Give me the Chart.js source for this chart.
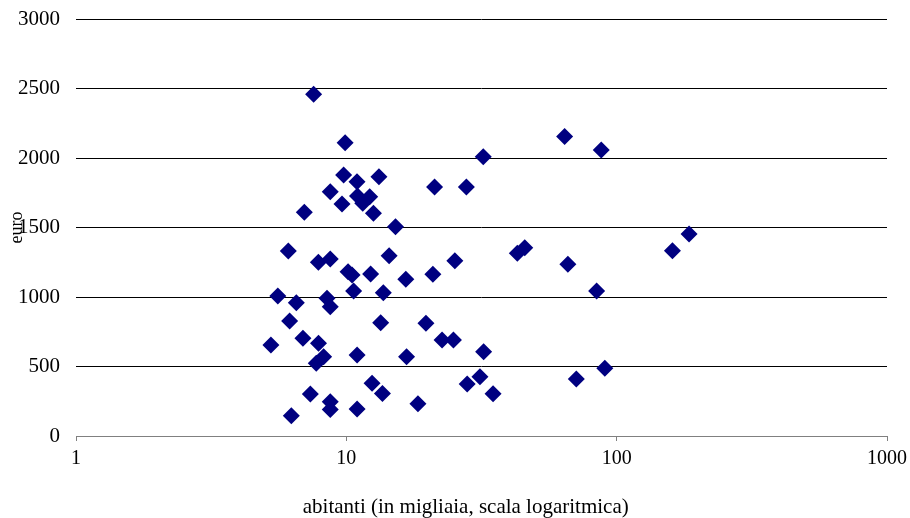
<!DOCTYPE html>
<html lang="it">
<head>
  <meta charset="UTF-8" />
  <title>euro per abitanti</title>
  <script src="https://cdn.jsdelivr.net/npm/chart.js"></script>
  <style>
    html, body { margin: 0; padding: 0; background: #fff; }
    #wrap { width: 910px; height: 518px; }
  </style>
</head>
<body>
  <div id="wrap"><canvas id="scatterChart" width="910" height="518"></canvas></div>
  <script>
    // abitanti (migliaia) e euro
    const abitanti = [
      7.57, 9.9, 9.77, 10.95, 13.2, 8.72, 6.99, 9.64, 11.0, 12.2,
      11.5, 12.6, 15.2, 21.2, 27.8, 32.1, 64.2, 87.7, 6.1, 7.88,
      8.72, 14.4, 25.2, 10.15, 10.5, 12.3, 16.6, 20.9, 42.9, 45.7,
      66.0, 84.3, 160.8, 185.3, 5.58, 6.53, 8.48, 8.72, 10.64, 13.7,
      6.17, 13.4, 19.7, 6.91, 7.89, 22.6, 24.9, 5.26, 8.24, 7.74,
      10.96, 16.7, 32.2, 12.45, 13.6, 7.36, 8.72, 8.72, 10.96, 18.4,
      6.26, 28.0, 31.2, 34.9, 70.9, 90.4
    ];
    const euro = [
      2458, 2110, 1878, 1829, 1865, 1757, 1609, 1669, 1727, 1722,
      1674, 1602, 1506, 1791, 1791, 2009, 2155, 2057, 1331, 1250,
      1273, 1297, 1261, 1182, 1158, 1165, 1127, 1163, 1314, 1355,
      1236, 1043, 1333, 1453, 1007, 959, 991, 930, 1043, 1031,
      827, 815, 811, 703, 667, 691, 691, 655, 571, 523,
      583, 571, 607, 379, 306, 302, 247, 190, 194, 232,
      146, 374, 427, 304, 410, 487
    ];
    const xTicks = [1, 10, 100, 1000];
    const yTicks = [0, 500, 1000, 1500, 2000, 2500, 3000];

    const points = abitanti.map((a, i) => ({ x: a, y: euro[i] }));
    const serif = "'Liberation Serif', 'Times New Roman', serif";

    new Chart(document.getElementById('scatterChart'), {
      type: 'scatter',
      data: {
        datasets: [{
          data: points,
          pointStyle: 'rectRot',
          pointRadius: 8.5,
          pointHoverRadius: 8.5,
          backgroundColor: '#000080',
          borderColor: '#000080',
          borderWidth: 0
        }]
      },
      options: {
        responsive: false,
        animation: false,
        layout: { padding: { top: 19, right: 23, left: 0, bottom: 0 } },
        plugins: { legend: { display: false }, tooltip: { enabled: false } },
        scales: {
          x: {
            type: 'logarithmic',
            min: 1,
            max: 1000,
            afterBuildTicks: axis => { axis.ticks = xTicks.map(v => ({ value: v })); },
            ticks: {
              color: '#000',
              font: { family: serif, size: 20 },
              padding: 6,
              maxRotation: 0,
              autoSkip: false,
              callback: v => String(v)
            },
            grid: { drawOnChartArea: false, drawTicks: true, tickLength: 5, color: '#808080' },
            border: { display: true, color: '#808080' },
            title: {
              display: true,
              // trailing spaces shift the centred title a little to the left, as in the original
              text: 'abitanti (in migliaia, scala logaritmica)\u00a0\u00a0\u00a0\u00a0\u00a0\u00a0',
              color: '#000',
              font: { family: serif, size: 21, lineHeight: 1 },
              padding: { top: 0, bottom: 0 }
            },
            afterFit: axis => {
              axis.height = 82;
              axis.paddingLeft = 0;
              axis.paddingRight = 0;
            }
          },
          y: {
            min: 0,
            max: 3000,
            afterBuildTicks: axis => { axis.ticks = yTicks.map(v => ({ value: v })); },
            ticks: {
              color: '#000',
              font: { family: serif, size: 21 },
              padding: 16,
              callback: v => String(v)
            },
            grid: { color: '#000', drawTicks: false, tickLength: 0 },
            border: { display: false },
            title: {
              display: true,
              text: 'euro',
              color: '#000',
              font: { family: serif, size: 18 },
              padding: { top: 6, bottom: 0 }
            },
            afterFit: axis => {
              axis.width = 76;
              axis.paddingTop = 0;
              axis.paddingBottom = 0;
            }
          }
        }
      }
    });
  </script>
</body>
</html>
